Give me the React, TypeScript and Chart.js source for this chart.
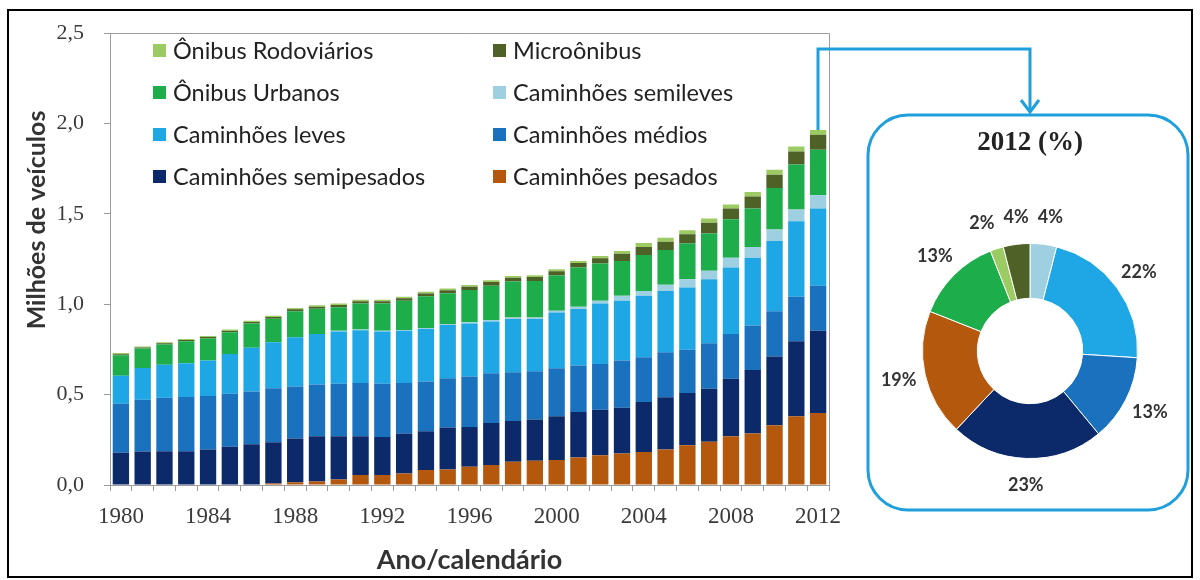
import React, { useEffect, useRef } from "react";
import { Chart, registerables } from "chart.js";

Chart.register(...registerables);

// ---- data (millions of vehicles, per calendar year) ----
const years = [
  "1980", "1981", "1982", "1983", "1984", "1985", "1986", "1987", "1988", "1989",
  "1990", "1991", "1992", "1993", "1994", "1995", "1996", "1997", "1998", "1999",
  "2000", "2001", "2002", "2003", "2004", "2005", "2006", "2007", "2008", "2009",
  "2010", "2011", "2012",
];

const pesados = [
  0, 0, 0, 0, 0, 0, 0.003, 0.008, 0.015, 0.02,
  0.03, 0.055, 0.055, 0.064, 0.083, 0.086, 0.101, 0.11, 0.128, 0.134,
  0.138, 0.152, 0.165, 0.174, 0.183, 0.196, 0.22, 0.239, 0.27, 0.285,
  0.331, 0.38, 0.398,
];
const semipesados = [
  0.178, 0.185, 0.187, 0.187, 0.196, 0.211, 0.223, 0.229, 0.242, 0.25,
  0.24, 0.215, 0.211, 0.221, 0.215, 0.232, 0.22, 0.233, 0.226, 0.228,
  0.242, 0.252, 0.252, 0.254, 0.276, 0.29, 0.289, 0.294, 0.318, 0.352,
  0.38, 0.415, 0.456,
];
const medios = [
  0.272, 0.287, 0.296, 0.3, 0.296, 0.294, 0.292, 0.299, 0.288, 0.286,
  0.29, 0.294, 0.294, 0.279, 0.275, 0.273, 0.279, 0.276, 0.27, 0.268,
  0.266, 0.257, 0.253, 0.261, 0.248, 0.248, 0.239, 0.252, 0.248, 0.245,
  0.25, 0.246, 0.248,
];
const leves = [
  0.155, 0.176, 0.182, 0.187, 0.197, 0.22, 0.241, 0.254, 0.272, 0.28,
  0.29, 0.292, 0.289, 0.289, 0.29, 0.294, 0.293, 0.286, 0.295, 0.288,
  0.308, 0.313, 0.334, 0.33, 0.34, 0.34, 0.345, 0.354, 0.367, 0.376,
  0.389, 0.419, 0.428,
];
const semileves = [
  0, 0, 0, 0, 0, 0, 0, 0, 0, 0,
  0.004, 0.004, 0.005, 0.005, 0.006, 0.006, 0.007, 0.008, 0.008, 0.009,
  0.01, 0.012, 0.015, 0.028, 0.027, 0.034, 0.046, 0.046, 0.055, 0.059,
  0.064, 0.065, 0.073,
];
const urbanos = [
  0.113, 0.107, 0.112, 0.121, 0.122, 0.12, 0.134, 0.13, 0.144, 0.139,
  0.13, 0.144, 0.15, 0.161, 0.175, 0.17, 0.179, 0.19, 0.199, 0.202,
  0.195, 0.217, 0.207, 0.193, 0.198, 0.193, 0.198, 0.206, 0.212, 0.213,
  0.23, 0.248, 0.252,
];
const microonibus = [
  0.006, 0.006, 0.007, 0.007, 0.008, 0.008, 0.009, 0.01, 0.011, 0.012,
  0.012, 0.013, 0.013, 0.014, 0.016, 0.017, 0.018, 0.02, 0.021, 0.022,
  0.024, 0.026, 0.029, 0.04, 0.045, 0.045, 0.05, 0.06, 0.06, 0.067,
  0.073, 0.073, 0.083,
];
const rodoviarios = [
  0.006, 0.006, 0.006, 0.006, 0.006, 0.007, 0.007, 0.007, 0.007, 0.008,
  0.008, 0.008, 0.008, 0.008, 0.009, 0.009, 0.009, 0.01, 0.01, 0.01,
  0.011, 0.011, 0.012, 0.015, 0.022, 0.022, 0.022, 0.024, 0.022, 0.024,
  0.028, 0.027, 0.027,
];

const yTicks = ["0,0", "0,5", "1,0", "1,5", "2,0", "2,5"];

// 2012 share (%) for the doughnut, clockwise from the top
const pieLabels = [
  "Caminhões semileves", "Caminhões leves", "Caminhões médios", "Caminhões semipesados",
  "Caminhões pesados", "Ônibus Urbanos", "Ônibus Rodoviários", "Microônibus",
];
const pieShare = [4, 22, 13, 23, 19, 13, 2, 4];

// ---- styling ----
const COLORS: Record<string, string> = {
  "Caminhões pesados": "#B4580E",
  "Caminhões semipesados": "#0C2A6A",
  "Caminhões médios": "#1A72BF",
  "Caminhões leves": "#1EA7E4",
  "Caminhões semileves": "#9ED0E2",
  "Ônibus Urbanos": "#1DAE4B",
  "Microônibus": "#4E6127",
  "Ônibus Rodoviários": "#9CCB63",
};

const stackSeries: [string, number[]][] = [
  ["Caminhões pesados", pesados],
  ["Caminhões semipesados", semipesados],
  ["Caminhões médios", medios],
  ["Caminhões leves", leves],
  ["Caminhões semileves", semileves],
  ["Ônibus Urbanos", urbanos],
  ["Microônibus", microonibus],
  ["Ônibus Rodoviários", rodoviarios],
];

const legendGrid = [
  ["Ônibus Rodoviários", "Microônibus"],
  ["Ônibus Urbanos", "Caminhões semileves"],
  ["Caminhões leves", "Caminhões médios"],
  ["Caminhões semipesados", "Caminhões pesados"],
];

const AXIS_GRAY = "#9c9c9c";
const LINK_BLUE = "#1F9FDC";
const SERIF = "'Liberation Serif', 'Times New Roman', serif";
const SANS = "Lato, 'Open Sans', sans-serif";

const framePlugin = {
  id: "frame",
  afterDraw(chart: any) {
    const { ctx, chartArea: a } = chart;
    ctx.save();

    // outer frame of the figure
    ctx.strokeStyle = "#000";
    ctx.lineWidth = 2;
    ctx.strokeRect(8, 10, 1184, 567);

    // top and right edges of the plot box
    ctx.strokeStyle = AXIS_GRAY;
    ctx.lineWidth = 1;
    ctx.beginPath();
    ctx.moveTo(a.left, Math.round(a.top) + 0.5);
    ctx.lineTo(Math.round(a.right) + 0.5, Math.round(a.top) + 0.5);
    ctx.lineTo(Math.round(a.right) + 0.5, a.bottom);
    ctx.stroke();

    // legend, two columns
    ctx.font = `23.5px ${SANS}`;
    ctx.textBaseline = "middle";
    ctx.textAlign = "left";
    const colX = [153, 493];
    legendGrid.forEach((row, r) => {
      row.forEach((name, c) => {
        const y = 50 + r * 42;
        ctx.fillStyle = COLORS[name];
        ctx.fillRect(colX[c], y - 6, 13, 13);
        ctx.fillStyle = "#222";
        ctx.fillText(name, colX[c] + 20, y + 1);
      });
    });

    // axis titles
    ctx.fillStyle = "#333";
    ctx.font = `bold 27px ${SANS}`;
    ctx.textAlign = "center";
    ctx.fillText("Ano/calendário", (a.left + a.right) / 2, 560);
    ctx.font = `bold 25px ${SANS}`;
    ctx.save();
    ctx.translate(37, 220);
    ctx.rotate(-Math.PI / 2);
    ctx.fillText("Milhões de veículos", 0, 0);
    ctx.restore();

    // connector from the 2012 bar to the share panel
    const meta = chart.getDatasetMeta(chart.data.datasets.length - 1);
    const bar = meta.data[meta.data.length - 1];
    const bx = Math.round(bar.x);
    const by = bar.y;
    const px = 1030;
    ctx.strokeStyle = LINK_BLUE;
    ctx.lineWidth = 3;
    ctx.lineJoin = "miter";
    ctx.beginPath();
    ctx.moveTo(bx, by);
    ctx.lineTo(bx, 49);
    ctx.lineTo(px, 49);
    ctx.lineTo(px, 112);
    ctx.stroke();
    ctx.beginPath();
    ctx.moveTo(px - 9, 100);
    ctx.lineTo(px, 112);
    ctx.lineTo(px + 9, 100);
    ctx.stroke();

    // rounded panel
    ctx.beginPath();
    ctx.roundRect(868, 115, 320, 395, 40);
    ctx.stroke();

    ctx.restore();
  },
};

const donutLabelPlugin = {
  id: "donutLabels",
  afterDraw(chart: any) {
    const { ctx } = chart;
    const meta = chart.getDatasetMeta(0);
    ctx.save();

    // panel title
    ctx.fillStyle = "#222";
    ctx.font = `bold 27px ${SERIF}`;
    ctx.textAlign = "center";
    ctx.textBaseline = "middle";
    const cx0 = meta.data[0].x;
    ctx.fillText("2012 (%)", cx0, 25);

    // percentage labels outside the ring
    ctx.font = `bold 18px ${SANS}`;
    const items = meta.data.map((arc: any, i: number) => {
      const p = arc.getProps(["x", "y", "startAngle", "endAngle", "outerRadius"], true);
      const mid = (p.startAngle + p.endAngle) / 2;
      const r = p.outerRadius + 27;
      const text = `${chart.data.datasets[0].data[i]}%`;
      return {
        text,
        x: p.x + Math.cos(mid) * r,
        y: p.y + Math.sin(mid) * r,
        w: ctx.measureText(text).width,
      };
    });
    // spread neighbouring labels that would collide
    for (let k = 0; k < 12; k++) {
      for (let i = 0; i < items.length; i++) {
        for (let j = i + 1; j < items.length; j++) {
          const A = items[i], B = items[j];
          const minSep = (A.w + B.w) / 2 + 9;
          if (Math.abs(A.y - B.y) < 18 && Math.abs(A.x - B.x) < minSep) {
            const push = (minSep - Math.abs(A.x - B.x)) / 2;
            if (A.x <= B.x) { A.x -= push; B.x += push; } else { A.x += push; B.x -= push; }
          }
        }
      }
    }
    ctx.fillStyle = "#333";
    items.forEach((it: any) => ctx.fillText(it.text, it.x, it.y));
    ctx.restore();
  },
};

export default function App() {
  const barRef = useRef<HTMLCanvasElement | null>(null);
  const pieRef = useRef<HTMLCanvasElement | null>(null);

  useEffect(() => {
    if (!barRef.current || !pieRef.current) return;

    const bar = new Chart(barRef.current, {
      type: "bar",
      data: {
        labels: years,
        datasets: stackSeries.map(([name, values]) => ({
          label: name,
          data: values,
          backgroundColor: COLORS[name],
          borderWidth: 0,
          stack: "frota",
          barPercentage: 0.75,
          categoryPercentage: 1,
        })),
      },
      options: {
        responsive: false,
        animation: false,
        devicePixelRatio: 1,
        layout: { padding: { left: 8, right: 371, top: 32, bottom: 0 } },
        plugins: { legend: { display: false }, tooltip: { enabled: false } },
        scales: {
          x: {
            stacked: true,
            afterFit: (s: any) => { s.height = 95; },
            grid: {
              display: true,
              drawOnChartArea: false,
              offset: true,
              tickLength: 6,
              color: AXIS_GRAY,
            },
            border: { display: true, color: AXIS_GRAY },
            ticks: {
              autoSkip: false,
              maxRotation: 0,
              padding: 12,
              color: "#3a3a3a",
              font: { family: SERIF, size: 23 },
              callback: function (this: any, v: any, i: number) {
                return i % 4 === 0 ? this.getLabelForValue(v) : "";
              },
            },
          },
          y: {
            stacked: true,
            min: 0,
            max: 2.5,
            afterFit: (s: any) => { s.width = 102; },
            grid: {
              display: true,
              drawOnChartArea: false,
              tickLength: 6,
              color: AXIS_GRAY,
            },
            border: { display: true, color: AXIS_GRAY },
            ticks: {
              stepSize: 0.5,
              padding: 20,
              color: "#3a3a3a",
              font: { family: SERIF, size: 22 },
              callback: (_v: any, i: number) => yTicks[i],
            },
          },
        },
      },
      plugins: [framePlugin],
    });

    const pie = new Chart(pieRef.current, {
      type: "doughnut",
      data: {
        labels: pieLabels,
        datasets: [
          {
            data: pieShare,
            backgroundColor: pieLabels.map((n) => COLORS[n]),
            borderColor: "#ffffff",
            borderWidth: 1,
          },
        ],
      },
      options: {
        responsive: false,
        animation: false,
        devicePixelRatio: 1,
        cutout: "49%",
        layout: { padding: { left: 42, right: 42, top: 125, bottom: 59 } },
        plugins: { legend: { display: false }, tooltip: { enabled: false } },
      },
      plugins: [donutLabelPlugin],
    });

    return () => {
      bar.destroy();
      pie.destroy();
    };
  }, []);

  return (
    <div
      style={{
        position: "fixed",
        left: 0,
        top: 0,
        width: 1200,
        height: 580,
        background: "#ffffff",
        overflow: "hidden",
      }}
    >
      <canvas
        ref={barRef}
        width={1200}
        height={580}
        style={{ position: "absolute", left: 0, top: 0, width: 1200, height: 580 }}
      />
      <canvas
        ref={pieRef}
        width={300}
        height={400}
        style={{ position: "absolute", left: 880, top: 118, width: 300, height: 400 }}
      />
    </div>
  );
}
